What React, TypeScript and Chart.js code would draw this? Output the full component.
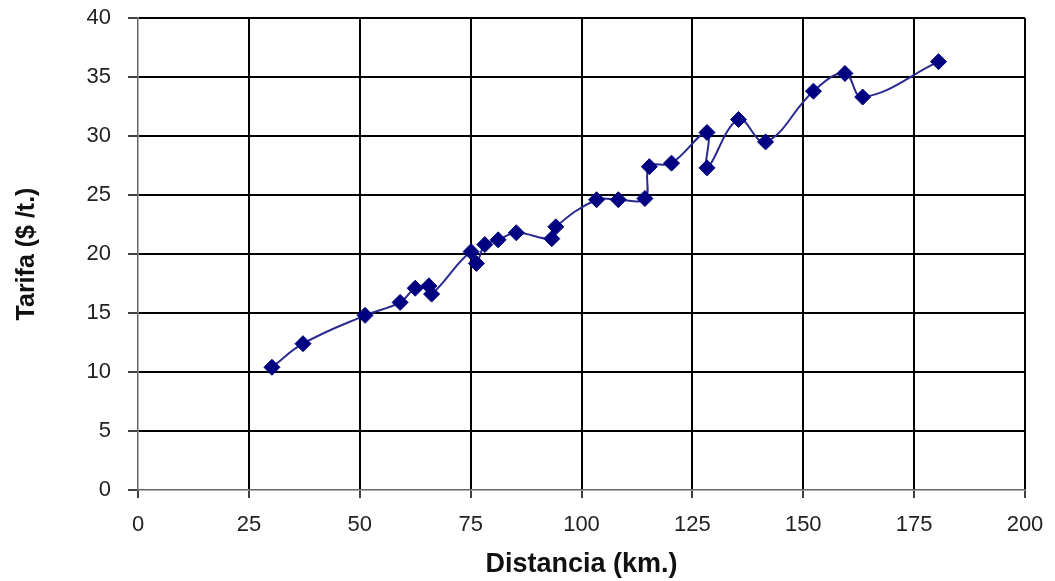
import React, { useEffect, useRef } from "react";
import { Chart, registerables } from "chart.js";

Chart.register(...registerables);

const distancia: number[] = [30.2, 37.2, 51.2, 59.1, 62.5, 65.6, 66.2, 75.1, 76.3, 78.2, 81.2, 85.3, 93.3, 94.2, 103.4, 108.3, 114.3, 115.3, 120.3, 128.3, 128.3, 135.4, 141.5, 152.3, 159.4, 163.4, 180.5];
const tarifa: number[] = [10.4, 12.4, 14.8, 15.9, 17.1, 17.3, 16.6, 20.2, 19.2, 20.8, 21.2, 21.8, 21.3, 22.3, 24.6, 24.6, 24.7, 27.4, 27.7, 30.3, 27.3, 31.4, 29.5, 33.8, 35.3, 33.3, 36.3];

const xTicks: number[] = [0, 25, 50, 75, 100, 125, 150, 175, 200];
const yTicks: number[] = [0, 5, 10, 15, 20, 25, 30, 35, 40];

const xTitle = "Distancia (km.)";
const yTitle = "Tarifa ($ /t.)";

export default function App() {
  const ref = useRef<HTMLCanvasElement | null>(null);
  useEffect(() => {
    if (!ref.current) return;
    const points = distancia.map((d, i) => ({ x: d, y: tarifa[i] }));
    const gridColor = (ctx: any) => (ctx.tick && ctx.tick.value === 0 ? "rgba(0,0,0,0)" : "#000000");
    const chart = new Chart(ref.current, {
      type: "scatter",
      data: {
        datasets: [
          {
            data: points,
            showLine: true,
            borderColor: "#2a2a90",
            borderWidth: 2,
            backgroundColor: "#000080",
            pointBackgroundColor: "#000080",
            pointBorderColor: "#000080",
            pointStyle: "rectRot",
            pointRadius: 8,
            pointBorderWidth: 1,
            tension: 0.4,
          },
        ],
      },
      options: {
        animation: false,
        responsive: false,
        maintainAspectRatio: false,
        layout: { padding: { left: 0, right: 30, top: 18, bottom: 0 } },
        plugins: { legend: { display: false }, tooltip: { enabled: false } },
        scales: {
          x: {
            type: "linear",
            min: 0,
            max: 200,
            afterFit: (s: any) => {
              s.height = 91;
              s.paddingLeft = 0;
              s.paddingRight = 0;
            },
            afterBuildTicks: (s: any) => {
              s.ticks = xTicks.map((v) => ({ value: v }));
            },
            grid: {
              color: gridColor,
              lineWidth: 2,
              tickColor: "#000000",
              tickLength: 8,
              tickWidth: 1.5,
            },
            border: { color: "#666666", width: 1.5 },
            ticks: {
              color: "#222222",
              font: { family: "Liberation Sans, Arial, sans-serif", size: 22 },
              padding: 14,
              maxRotation: 0,
            },
            title: {
              display: true,
              text: xTitle,
              color: "#111111",
              font: { family: "Liberation Sans, Arial, sans-serif", size: 27, weight: "bold" },
              padding: { top: 2, bottom: 0 },
            },
          },
          y: {
            type: "linear",
            min: 0,
            max: 40,
            afterFit: (s: any) => {
              s.width = 138;
              s.paddingTop = 0;
              s.paddingBottom = 0;
            },
            afterBuildTicks: (s: any) => {
              s.ticks = yTicks.map((v) => ({ value: v }));
            },
            grid: {
              color: gridColor,
              lineWidth: 2,
              tickColor: "#000000",
              tickLength: 10,
              tickWidth: 1.5,
            },
            border: { color: "#666666", width: 1.5 },
            ticks: {
              color: "#222222",
              font: { family: "Liberation Sans, Arial, sans-serif", size: 22 },
              padding: 17,
            },
            title: {
              display: true,
              text: yTitle,
              color: "#111111",
              font: { family: "Liberation Sans, Arial, sans-serif", size: 25, weight: "bold" },
              padding: { top: 12, bottom: 0 },
            },
          },
        },
      } as any,
    });
    return () => chart.destroy();
  }, []);
  return (
    <div style={{ position: "absolute", left: 0, top: 0, width: 1055, height: 581, background: "#ffffff" }}>
      <canvas ref={ref} width={1055} height={581} style={{ width: 1055, height: 581 }} />
    </div>
  );
}
